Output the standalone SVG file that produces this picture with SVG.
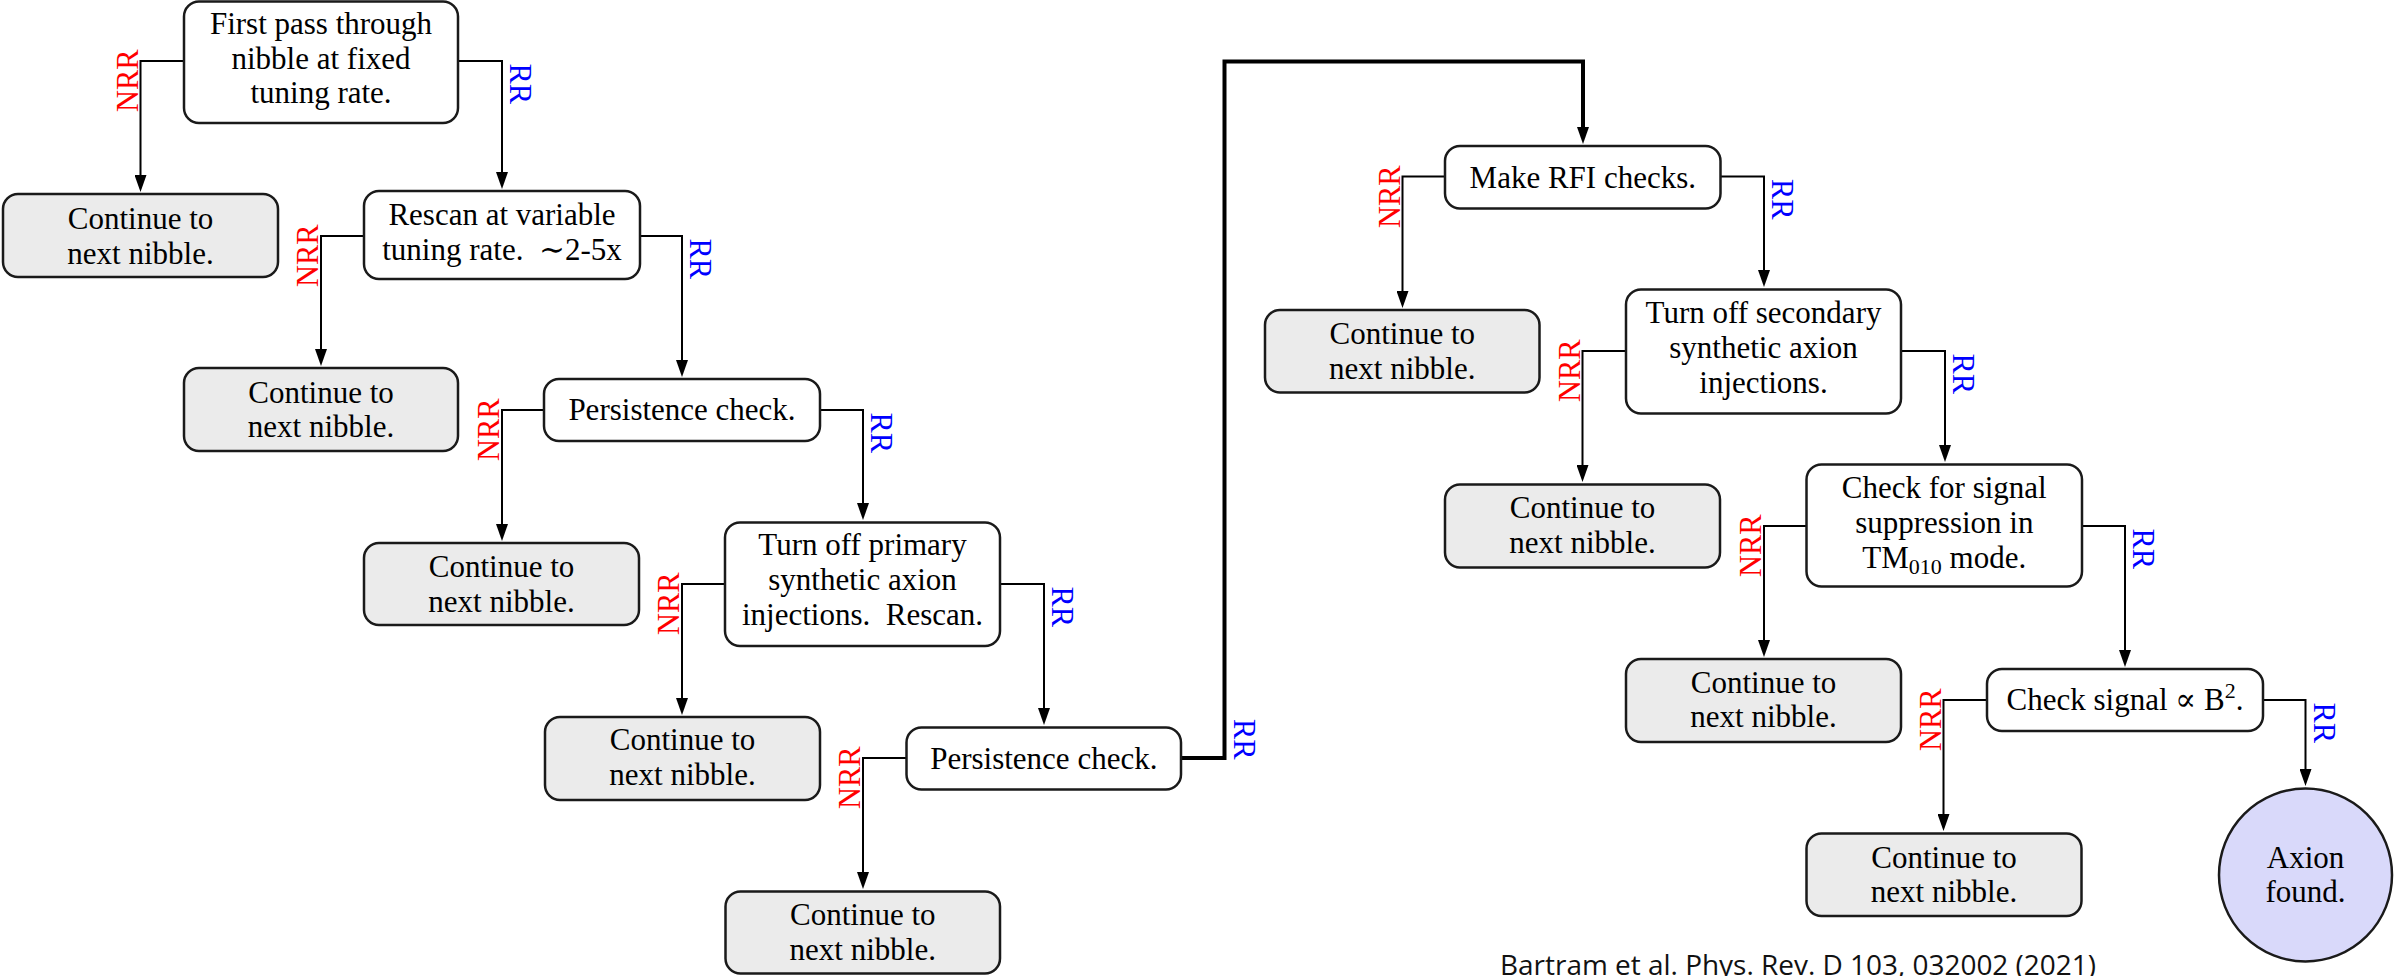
<svg xmlns="http://www.w3.org/2000/svg" width="2397" height="976" viewBox="0 0 2397 976">
<style>
.box{fill:#ffffff;stroke:#1a1a1a;stroke-width:2.5}
.cont{fill:#ebebeb;stroke:#1a1a1a;stroke-width:2.5}
.found{fill:#d9d9fa;stroke:#1a1a1a;stroke-width:2.5}
.t{font-family:"Liberation Serif","DejaVu Serif",serif;font-size:31px;fill:#000;text-anchor:middle}
.lab{font-family:"Liberation Serif","DejaVu Serif",serif;font-size:30.5px}
.nrr{fill:#ff0000;text-anchor:start}
.rr{fill:#0000ff;text-anchor:start}
.c{fill:none;stroke:#000;stroke-width:2}
.thick{fill:none;stroke:#000;stroke-width:4}
.cite{font-family:"Open Sans","Liberation Sans",sans-serif;font-size:28px;fill:#111}
</style>
<defs>
<marker id="arr" viewBox="0 0 17 12" refX="9" refY="6" markerWidth="17" markerHeight="12" markerUnits="userSpaceOnUse" orient="auto">
<path d="M0,0 L17,6 L0,12 z" fill="#000"/>
</marker>
</defs>
<rect width="2397" height="976" fill="#ffffff"/>

<g id="connectors">
<path class="c" d="M184,61 H140.5 V184" marker-end="url(#arr)"/>
<path class="c" d="M458,61 H502 V181" marker-end="url(#arr)"/>
<path class="c" d="M364,236 H321 V358" marker-end="url(#arr)"/>
<path class="c" d="M640,236 H682 V369" marker-end="url(#arr)"/>
<path class="c" d="M544,410 H502 V533" marker-end="url(#arr)"/>
<path class="c" d="M820,410 H863 V512" marker-end="url(#arr)"/>
<path class="c" d="M725,584 H682 V707" marker-end="url(#arr)"/>
<path class="c" d="M1000,584 H1044 V717" marker-end="url(#arr)"/>
<path class="c" d="M906.5,758 H863 V881" marker-end="url(#arr)"/>
<path class="thick" d="M1181,758 H1224.5 V61.5 H1583 V136" marker-end="url(#arr)"/>
<path class="c" d="M1445,176.5 H1402.5 V300" marker-end="url(#arr)"/>
<path class="c" d="M1720.5,176.5 H1764 V279" marker-end="url(#arr)"/>
<path class="c" d="M1626,351 H1582.5 V474" marker-end="url(#arr)"/>
<path class="c" d="M1901,351 H1945 V454" marker-end="url(#arr)"/>
<path class="c" d="M1806.5,526 H1764 V649" marker-end="url(#arr)"/>
<path class="c" d="M2082,526 H2125 V659" marker-end="url(#arr)"/>
<path class="c" d="M1987,700 H1943.5 V823" marker-end="url(#arr)"/>
<path class="c" d="M2263,700 H2305.5 V778" marker-end="url(#arr)"/>

<text class="lab nrr" transform="translate(137.5,112) rotate(-90)">NRR</text>
<text class="lab rr" transform="translate(510,63.5) rotate(90)">RR</text>
<text class="lab nrr" transform="translate(318,287) rotate(-90)">NRR</text>
<text class="lab rr" transform="translate(690,238.5) rotate(90)">RR</text>
<text class="lab nrr" transform="translate(499,461) rotate(-90)">NRR</text>
<text class="lab rr" transform="translate(871,412.5) rotate(90)">RR</text>
<text class="lab nrr" transform="translate(679,635) rotate(-90)">NRR</text>
<text class="lab rr" transform="translate(1052,586.5) rotate(90)">RR</text>
<text class="lab nrr" transform="translate(860,809) rotate(-90)">NRR</text>
<text class="lab rr" transform="translate(1234,719) rotate(90)">RR</text>
<text class="lab nrr" transform="translate(1399.5,228) rotate(-90)">NRR</text>
<text class="lab rr" transform="translate(1772,179) rotate(90)">RR</text>
<text class="lab nrr" transform="translate(1579.5,402) rotate(-90)">NRR</text>
<text class="lab rr" transform="translate(1953,353.5) rotate(90)">RR</text>
<text class="lab nrr" transform="translate(1761,577) rotate(-90)">NRR</text>
<text class="lab rr" transform="translate(2133,528.5) rotate(90)">RR</text>
<text class="lab nrr" transform="translate(1940.5,751) rotate(-90)">NRR</text>
<text class="lab rr" transform="translate(2314,702.5) rotate(90)">RR</text>
</g>

<g id="n_first">
<rect class="box" x="184" y="1.5" width="274" height="121.5" rx="15"/>
<text class="t" x="321" y="33.5">First pass through</text>
<text class="t" x="321" y="68.5">nibble at fixed</text>
<text class="t" x="321" y="103">tuning rate.</text>
</g>
<g id="n_cont1">
<rect class="cont" x="3" y="194" width="275" height="83" rx="15"/>
<text class="t" x="140.5" y="228.5">Continue to</text>
<text class="t" x="140.5" y="263.5">next nibble.</text>
</g>
<g id="n_rescan">
<rect class="box" x="364" y="191" width="276" height="88" rx="15"/>
<text class="t" x="502" y="224.5">Rescan at variable</text>
<text class="t" x="502" y="260">tuning rate.&#160; ∼2-5x</text>
</g>
<g id="n_cont2">
<rect class="cont" x="184" y="368" width="274" height="83" rx="15"/>
<text class="t" x="321" y="403">Continue to</text>
<text class="t" x="321" y="437">next nibble.</text>
</g>
<g id="n_persist1">
<rect class="box" x="544" y="379" width="276" height="62" rx="15"/>
<text class="t" x="682" y="420">Persistence check.</text>
</g>
<g id="n_cont3">
<rect class="cont" x="364" y="543" width="275" height="82" rx="15"/>
<text class="t" x="501.5" y="577">Continue to</text>
<text class="t" x="501.5" y="612">next nibble.</text>
</g>
<g id="n_primary">
<rect class="box" x="725" y="522.5" width="275" height="123.5" rx="15"/>
<text class="t" x="862.5" y="555">Turn off primary</text>
<text class="t" x="862.5" y="590">synthetic axion</text>
<text class="t" x="862.5" y="625">injections.&#160; Rescan.</text>
</g>
<g id="n_cont4">
<rect class="cont" x="545" y="717" width="275" height="83" rx="15"/>
<text class="t" x="682.5" y="750">Continue to</text>
<text class="t" x="682.5" y="785">next nibble.</text>
</g>
<g id="n_persist2">
<rect class="box" x="906.5" y="727.5" width="274.5" height="62" rx="15"/>
<text class="t" x="1043.8" y="768.5">Persistence check.</text>
</g>
<g id="n_cont5">
<rect class="cont" x="725.5" y="891.5" width="274.5" height="82" rx="15"/>
<text class="t" x="862.8" y="925">Continue to</text>
<text class="t" x="862.8" y="960">next nibble.</text>
</g>
<g id="n_rfi">
<rect class="box" x="1445" y="146" width="275.5" height="62.5" rx="15"/>
<text class="t" x="1582.8" y="187.5">Make RFI checks.</text>
</g>
<g id="n_cont6">
<rect class="cont" x="1265" y="310" width="274.5" height="82.5" rx="15"/>
<text class="t" x="1402.3" y="344">Continue to</text>
<text class="t" x="1402.3" y="379.3">next nibble.</text>
</g>
<g id="n_secondary">
<rect class="box" x="1626" y="289.5" width="275" height="124" rx="15"/>
<text class="t" x="1763.5" y="323.3">Turn off secondary</text>
<text class="t" x="1763.5" y="358.3">synthetic axion</text>
<text class="t" x="1763.5" y="393.3">injections.</text>
</g>
<g id="n_cont7">
<rect class="cont" x="1445" y="484.5" width="275" height="83" rx="15"/>
<text class="t" x="1582.5" y="518">Continue to</text>
<text class="t" x="1582.5" y="552.7">next nibble.</text>
</g>
<g id="n_suppression">
<rect class="box" x="1806.5" y="464.5" width="275.5" height="122" rx="15"/>
<text class="t" x="1944.3" y="498.3">Check for signal</text>
<text class="t" x="1944.3" y="533.3">suppression in</text>
<text class="t" x="1944.3" y="568.3">TM<tspan font-size="22" dy="6">010</tspan><tspan dy="-6"> mode.</tspan></text>
</g>
<g id="n_cont8">
<rect class="cont" x="1626" y="659" width="275" height="83" rx="15"/>
<text class="t" x="1763.5" y="692.7">Continue to</text>
<text class="t" x="1763.5" y="727.3">next nibble.</text>
</g>
<g id="n_b2">
<rect class="box" x="1987" y="669" width="276" height="62" rx="15"/>
<text class="t" x="2125" y="710">Check signal ∝ B<tspan font-size="22" dy="-12">2</tspan><tspan dy="12">.</tspan></text>
</g>
<g id="n_cont9">
<rect class="cont" x="1806.5" y="833.5" width="275" height="82.5" rx="15"/>
<text class="t" x="1944" y="867.7">Continue to</text>
<text class="t" x="1944" y="902.3">next nibble.</text>
</g>
<g id="n_found">
<circle class="found" cx="2305.5" cy="875" r="86.5"/>
<text class="t" x="2305.5" y="867.7">Axion</text>
<text class="t" x="2305.5" y="901.7">found.</text>
</g>

<text class="cite" x="1500" y="975" textLength="596" lengthAdjust="spacingAndGlyphs">Bartram et al. Phys. Rev. D 103, 032002 (2021)</text>
</svg>
